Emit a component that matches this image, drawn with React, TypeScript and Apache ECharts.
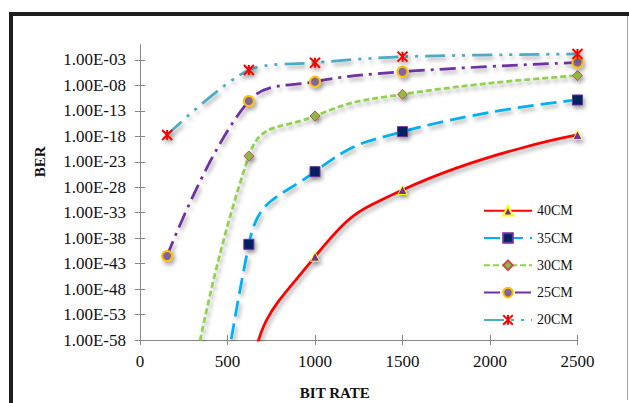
import React, { useEffect, useRef } from 'react';
import * as echarts from 'echarts';

// Bit rates (x) and BER values (log-scale y axis)
const bitRates = [155, 622, 1000, 1500, 2500];
const seriesNames = ['40CM', '35CM', '30CM', '25CM', '20CM'];
const ber40cm = [1e-200, 1e-66, 2.3e-42, 2.9e-29, 1.86e-18];
const ber35cm = [1e-170, 6.3e-40, 1.15e-25, 8.3e-18, 1.38e-11];
const ber30cm = [1e-100, 1.38e-22, 1e-14, 1.8e-10, 8.3e-7];
const ber25cm = [3.16e-42, 8.9e-12, 5.5e-8, 5e-6, 3.2e-4];
const ber20cm = [1.86e-18, 1.1e-5, 2.95e-4, 4.47e-3, 1.51e-2];
const xTickValues = [0, 500, 1000, 1500, 2000, 2500];
const yTickExponents = [-58, -53, -48, -43, -38, -33, -28, -23, -18, -13, -8, -3];

const STAR = 'path://M0,0L10,10M10,0L0,10M5,0L5,10';

export default function App() {
  const ref = useRef<HTMLDivElement>(null);
  useEffect(() => {
    if (!ref.current) return;
    const chart = echarts.init(ref.current, null, { renderer: 'svg' });
    const font = 'Liberation Serif';
    const fmt = (v: number) => {
      const e = Math.round(v);
      return '1.00E' + (e < 0 ? '-' : '+') + String(Math.abs(e)).padStart(2, '0');
    };
    const shadow = {
      shadowColor: 'rgba(0,0,0,0.35)',
      shadowBlur: 4,
      shadowOffsetX: 2,
      shadowOffsetY: 3,
    };
    const allData = [ber40cm, ber35cm, ber30cm, ber25cm, ber20cm];
    const looks: any[] = [
      { color: '#FF0000', type: 'solid', symbol: 'triangle', size: 9, fill: '#7030A0', border: '#FFFF00', bw: 1, smooth: 0.5 },
      { color: '#00B0F0', type: [16, 7], symbol: 'rect', size: 10, fill: '#002060', border: '#7030A0', bw: 1, smooth: 0.5 },
      { color: '#92D050', type: [6, 3], symbol: 'diamond', size: 10, fill: '#8DB944', border: '#C0504D', bw: 1, smooth: 0.5 },
      { color: '#7030A0', type: [16, 6, 3, 6], symbol: 'circle', size: 10, fill: '#8064A2', border: '#FFC000', bw: 2, smooth: 0.38 },
      { color: '#4BACC6', type: [20, 7, 3, 7, 3, 7], symbol: STAR, size: 10, fill: '#FF0000', border: '#FF0000', bw: 2, smooth: 0.28 },
    ];
    const series = seriesNames.map((name, si) => ({
      name,
      type: 'line',
      smooth: looks[si].smooth,
      clip: true,
      data: bitRates.map((b, i) => [b, Math.log10(allData[si][i])]),
      symbol: looks[si].symbol,
      symbolSize: looks[si].size,
      lineStyle: { color: looks[si].color, width: 2.75, type: looks[si].type, ...shadow },
      itemStyle: {
        color: looks[si].fill,
        borderColor: looks[si].border,
        borderWidth: looks[si].bw,
        ...shadow,
      },
      emphasis: { disabled: true },
    }));
    const axisColor = '#868686';
    const labelStyle = { fontFamily: font, fontSize: 17, color: '#111' };
    chart.setOption({
      animation: false,
      backgroundColor: '#ffffff',
      grid: { left: 140, right: 51.5, top: 44.7, bottom: 63, containLabel: false, outerBoundsMode: 'none' },
      legend: {
        orient: 'vertical',
        left: 483,
        top: 203.7,
        padding: 0,
        itemWidth: 48,
        itemHeight: 12,
        itemGap: 13.3,
        textStyle: { fontFamily: font, fontSize: 14, color: '#111' },
        data: seriesNames,
      },
      xAxis: [
        {
          type: 'value',
          min: 0,
          max: 2500,
          interval: 500,
          position: 'bottom',
          name: 'BIT RATE',
          nameLocation: 'middle',
          nameGap: 45,
          nameTextStyle: { fontFamily: font, fontSize: 15, fontWeight: 'bold', color: '#111', padding: [0, 48, 0, 0] },
          axisLine: { onZero: false, lineStyle: { color: axisColor, width: 1 } },
          axisTick: { show: true, length: 5, lineStyle: { color: axisColor }, customValues: xTickValues },
          axisLabel: { ...labelStyle, margin: 13, formatter: (v: number) => String(v), customValues: xTickValues },
          splitLine: { show: false },
        },
        {
          type: 'value',
          min: 0,
          max: 2500,
          interval: 500,
          position: 'bottom',
          axisLine: { show: false, onZero: false },
          axisTick: { show: true, inside: true, length: 5, lineStyle: { color: axisColor }, customValues: xTickValues },
          axisLabel: { show: false },
          splitLine: { show: false },
        },
      ],
      yAxis: [
        {
          type: 'value',
          min: -58,
          max: 0,
          interval: 5,
          position: 'left',
          name: 'BER',
          nameLocation: 'middle',
          nameGap: 93,
          nameTextStyle: { fontFamily: font, fontSize: 15, fontWeight: 'bold', color: '#111', padding: [0, 0, 0, 61] },
          axisLine: { show: true, onZero: false, lineStyle: { color: axisColor, width: 1 } },
          axisTick: { show: true, length: 5, lineStyle: { color: axisColor }, customValues: yTickExponents },
          axisLabel: { ...labelStyle, margin: 14, formatter: fmt, customValues: yTickExponents },
          splitLine: { show: false },
        },
        {
          type: 'value',
          min: -58,
          max: 0,
          interval: 5,
          position: 'left',
          axisLine: { show: false, onZero: false },
          axisTick: { show: true, inside: true, length: 5, lineStyle: { color: axisColor }, customValues: yTickExponents },
          axisLabel: { show: false },
          splitLine: { show: false },
        },
      ],
      graphic: [
        { type: 'rect', silent: true, shape: { x: 9, y: 12, width: 4, height: 391 }, style: { fill: '#1e1e1e' } },
        { type: 'rect', silent: true, shape: { x: 9, y: 12, width: 620, height: 4 }, style: { fill: '#1e1e1e' } },
        { type: 'line', silent: true, shape: { x1: 627.5, y1: 16, x2: 627.5, y2: 400 }, style: { stroke: '#a0a0a0', lineWidth: 1 } },
      ],
      series,
    });
    return () => chart.dispose();
  }, []);
  return (
    <div
      ref={ref}
      style={{ position: 'absolute', left: 0, top: 0, width: 629, height: 403, background: '#fff' }}
    />
  );
}
